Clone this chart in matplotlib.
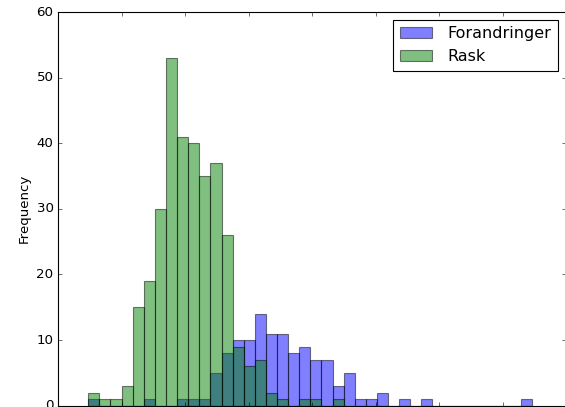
import numpy as np
import matplotlib
matplotlib.use('Agg')
import matplotlib.pyplot as plt

# counts per bin, 40 shared bins
forandringer = [1, 0, 0, 0, 0, 1, 0, 0, 1, 1,
                1, 5, 8, 10, 10, 14, 11, 11, 8, 9,
                7, 7, 3, 5, 1, 1, 2, 0, 1, 0,
                1, 0, 0, 0, 0, 0, 0, 0, 0, 1]
rask = [2, 1, 1, 3, 15, 19, 30, 53, 41, 40,
        35, 37, 26, 9, 6, 7, 2, 1, 0, 1,
        1, 0, 1, 0, 0, 0, 0, 0, 0, 0,
        0, 0, 0, 0, 0, 0, 0, 0, 0, 0]
labels = ['Forandringer', 'Rask']
x_lo, x_hi = 0.477, 7.47
yticks = [0, 10, 20, 30, 40, 50, 60]

plt.style.use('classic')
plt.rcParams['figure.facecolor'] = 'white'
plt.rcParams['savefig.facecolor'] = 'white'

edges = np.linspace(x_lo, x_hi, len(rask) + 1)
centers = (edges[:-1] + edges[1:]) / 2.

fig = plt.figure(figsize=(565 / 80., 407 / 80.), dpi=80)
ax = fig.add_axes([58 / 565., 1.3 / 407., 508 / 565., 393.7 / 407.])

ax.hist(centers, bins=edges, weights=forandringer, alpha=0.5, color='b', label=labels[0])
ax.hist(centers, bins=edges, weights=rask, alpha=0.5, color='g', label=labels[1])

ax.set_xlim(0, 8)
ax.set_ylim(0, 60)
ax.set_xticks(np.arange(0, 9))
ax.tick_params(axis='x', labelbottom=False)  # cropped away in the reference
ax.set_yticks(yticks)
ax.set_ylabel('Frequency')
ax.legend(loc='upper right', handletextpad=1.0)

plt.savefig('out.png', dpi=80)
